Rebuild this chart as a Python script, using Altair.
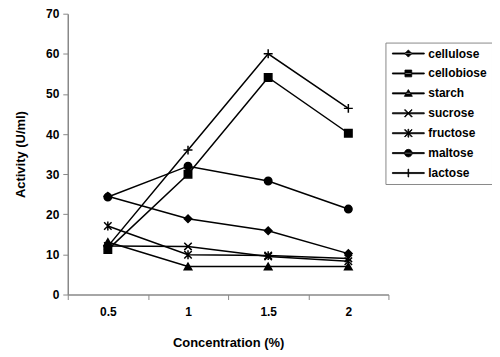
import math
import altair as alt
import pandas as pd

concentrations = ["0.5", "1", "1.5", "2"]
series_names = ["cellulose", "cellobiose", "starch", "sucrose", "fructose", "maltose", "lactose"]
cellulose = [24.5, 18.9, 15.9, 10.2]
cellobiose = [11.2, 30.0, 54.1, 40.2]
starch = [13.1, 7.0, 7.0, 7.0]
sucrose = [12.1, 12.0, 9.5, 8.3]
fructose = [17.1, 9.9, 9.7, 9.0]
maltose = [24.3, 32.0, 28.3, 21.3]
lactose = [12.0, 36.0, 60.0, 46.4]

values = [cellulose, cellobiose, starch, sucrose, fructose, maltose, lactose]
rows = []
for name, vals in zip(series_names, values):
    for c, v in zip(concentrations, vals):
        rows.append({"series": name, "conc": c, "activity": v})
df = pd.DataFrame(rows)

FONT = "Liberation Sans"

plot_shapes = [
    "diamond",
    "square",
    "triangle-up",
    "M-1,-1L1,1M-1,1L1,-1",
    "M-1,-1L1,1M-1,1L1,-1M0,-1.2L0,1.2",
    "circle",
    "M-1.2,0L1.2,0M0,-1.2L0,1.2",
]


def bar(x1, y1, x2, y2, w=0.2):
    """Thin filled quadrilateral along a segment (legend symbol units, 1 unit = 4 px)."""
    dx, dy = x2 - x1, y2 - y1
    n = math.hypot(dx, dy)
    px, py = -dy / n * w, dx / n * w
    pts = [(x1 + px, y1 + py), (x2 + px, y2 + py), (x2 - px, y2 - py), (x1 - px, y1 - py)]
    return "M" + "L".join(f"{a:.3f},{b:.3f}" for a, b in pts) + "Z"


# legend symbols: a line stub with the marker in its middle (unit = 4 px)
stub = bar(-1, 0, 7, 0, 0.14)
xmark = bar(2.1, -0.9, 3.9, 0.9, 0.1) + bar(2.1, 0.9, 3.9, -0.9, 0.1)
legend_shapes = [
    stub + "M3,-0.9L3.9,0L3,0.9L2.1,0Z",
    stub + "M2.15,-0.85L3.85,-0.85L3.85,0.85L2.15,0.85Z",
    stub + "M3,-0.95L4,0.75L2,0.75Z",
    stub + xmark,
    stub + xmark + bar(3, -1, 3, 1, 0.1),
    stub + "M2.05,0A0.95,0.95,0,1,1,3.95,0A0.95,0.95,0,1,1,2.05,0Z",
    stub + bar(3, -1, 3, 1, 0.08),
]

x_enc = alt.X(
    "conc:N",
    bandPosition=0.5,
    sort=concentrations,
    scale=alt.Scale(type="band", domain=concentrations, paddingInner=0, paddingOuter=0),
    axis=alt.Axis(
        title="Concentration (%)",
        labelAngle=0,
        tickBand="extent",
        tickSize=5,
        labelPadding=7,
        titlePadding=19,
        labelFont=FONT, labelFontSize=12, labelFontWeight="bold", labelColor="black",
        titleFont=FONT, titleFontSize=13, titleFontWeight="bold", titleColor="black",
        domainColor="#888", tickColor="#888", domainWidth=1.5, grid=False,
    ),
)
y_enc = alt.Y(
    "activity:Q",
    scale=alt.Scale(domain=[0, 70], nice=False),
    axis=alt.Axis(
        title="Activity (U/ml)",
        values=[0, 10, 20, 30, 40, 50, 60, 70],
        tickSize=5,
        labelPadding=4,
        titlePadding=18,
        labelFont=FONT, labelFontSize=12, labelFontWeight="bold", labelColor="black",
        titleFont=FONT, titleFontSize=13, titleFontWeight="bold", titleColor="black",
        domainColor="#888", tickColor="#888", domainWidth=1.5, grid=False,
    ),
)

base = alt.Chart(df)

lines = base.mark_line(color="black", strokeWidth=1.5).encode(
    x=x_enc, y=y_enc, detail="series:N"
)

points = base.mark_point(
    filled=True, fill="black", stroke="black", strokeWidth=1.5, size=56, opacity=1
).encode(
    x=x_enc,
    y=y_enc,
    shape=alt.Shape(
        "series:N",
        scale=alt.Scale(domain=series_names, range=plot_shapes),
        legend=None,
    ),
)

legend_layer = base.mark_point(
    filled=False, fill="black", stroke="black", strokeWidth=0.8, size=64, opacity=1
).encode(
    x=x_enc,
    y=y_enc,
    shape=alt.Shape(
        "series:N",
        scale=alt.Scale(domain=series_names, range=legend_shapes),
        legend=alt.Legend(
            title=None,
            orient="none",
            legendX=319,
            legendY=29,
            strokeColor="#888",
            fillColor="white",
            padding=5,
            symbolSize=64,
            symbolFillColor="black",
            symbolStrokeWidth=0.8,
            symbolOpacity=1,
            labelFont=FONT,
            labelFontSize=12,
            labelFontWeight="bold",
            labelColor="black",
            labelOffset=26,
            rowPadding=8,
        ),
    ),
).transform_filter("false")

chart = alt.layer(lines, points, legend_layer).resolve_scale(
    shape="independent"
).properties(
    width=322,
    height=282,
    padding={"left": 60, "top": 5, "right": 104, "bottom": 60},
    autosize=alt.AutoSizeParams(type="none"),
    background="white",
).configure_view(stroke=None)

chart.save("out.html", embed_options={"renderer": "svg", "actions": False})
